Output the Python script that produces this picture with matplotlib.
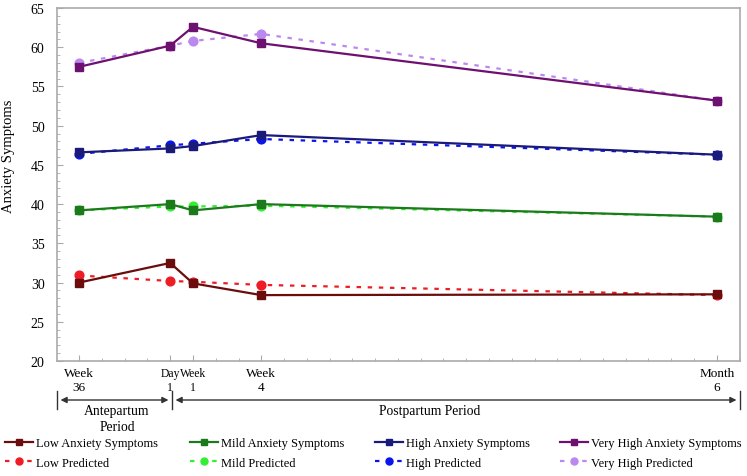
import matplotlib
matplotlib.use("Agg")
import matplotlib.pyplot as plt
from matplotlib.patches import FancyArrowPatch

plt.rcParams['font.family'] = ['Liberation Serif', 'DejaVu Serif']

# time points (weeks relative to delivery)
time_points = [-4, 0, 1, 4, 24]
tick_labels = ["Week\n36", "Day\n1", "Week\n1", "Week\n4", "Month\n6"]

low_obs = [30.0, 32.5, 29.9, 28.4, 28.5]
low_pred = [30.9, 30.2, 30.1, 29.7, 28.4]
mild_obs = [39.2, 40.0, 39.2, 40.0, 38.4]
mild_pred = [39.2, 39.7, 39.7, 39.8, 38.4]
high_obs = [46.6, 47.1, 47.4, 48.8, 46.3]
high_pred = [46.4, 47.5, 47.7, 48.3, 46.3]
vhigh_obs = [57.5, 60.2, 62.6, 60.5, 53.2]
vhigh_pred = [58.0, 60.2, 60.8, 61.7, 53.2]

W, H = 747, 477
fig = plt.figure(figsize=(W/100, H/100), dpi=100)
L, R, T, B = 57, 740, 9, 362
ax = fig.add_axes([L/W, 1-B/H, (R-L)/W, (B-T)/H])

series = [
    ("Low Anxiety Symptoms", low_obs, "#6b0d0d", "-", "s"),
    ("Low Predicted", low_pred, "#ee1c24", (0, (2, 3)), "o"),
    ("Mild Anxiety Symptoms", mild_obs, "#1c7a1c", "-", "s"),
    ("Mild Predicted", mild_pred, "#33ee33", (0, (2, 3)), "o"),
    ("High Anxiety Symptoms", high_obs, "#1a1a7a", "-", "s"),
    ("High Predicted", high_pred, "#0a14ee", (0, (2, 3)), "o"),
    ("Very High Anxiety Symptoms", vhigh_obs, "#6e1070", "-", "s"),
    ("Very High Predicted", vhigh_pred, "#bb88ee", (0, (2, 3)), "o"),
]
handles = []
for name, vals, col, ls, mk in series:
    ms = 5.8 if mk == "s" else 6.3
    ln, = ax.plot(time_points, vals, color=col, linestyle=ls, lw=1.6,
                  marker=mk, markersize=ms, markeredgecolor=col, label=name,
                  zorder=3 if mk == "s" else 2.5)
    handles.append(ln)

ax.set_xlim(-4.97, 25.02)
ax.set_ylim(20, 65)
ax.set_yticks(range(20, 66, 5))
ax.set_yticks(range(20, 66, 1), minor=True)
ax.set_xticks(time_points)
ax.set_xticklabels(tick_labels, fontsize=9.5, linespacing=1.3)
ax.set_xticks(range(-4, 26, 1), minor=True)
ax.tick_params(axis='both', which='both', direction='in', color='#aaaaaa')
ax.tick_params(axis='both', which='major', length=4)
ax.tick_params(axis='both', which='minor', length=2.5)
ax.tick_params(axis='x', which='major', pad=4)
ax.tick_params(axis='y', which='major', labelsize=10, pad=9)
xl = ax.get_xticklabels()
xl[1].set_fontsize(8.4)
xl[2].set_fontsize(8.4)
for s in ax.spines.values():
    s.set_color('#aaaaaa')
    s.set_linewidth(1.2)
ax.set_ylabel("Anxiety Symptoms", fontsize=10.5)
ax.yaxis.set_label_coords(-(L - 15) / (R - L), 1 - (156 - T) / (B - T))

def fx(px):
    return px / W
def fy(py):
    return 1 - py / H

ya = 401
xa0, xa1, xa2 = 57, 172, 740
for x0, x1 in [(xa0, xa1), (xa1, xa2)]:
    fig.patches.append(FancyArrowPatch((fx(x0) + 0.001, fy(ya)), (fx(x1) - 0.001, fy(ya)),
                       arrowstyle='<|-|>', mutation_scale=9, color='#333333', lw=1,
                       transform=fig.transFigure, figure=fig))
for xv in (xa0, xa1, xa2):
    fig.add_artist(plt.Line2D([fx(xv), fx(xv)], [fy(ya - 9), fy(ya + 9)], color='#333333', lw=1))

fig.text(fx(117), fy(420), "Antepartum\nPeriod", ha='center', va='center', fontsize=9.8, linespacing=1.3)
fig.text(fx(430), fy(411), "Postpartum Period", ha='center', va='center', fontsize=9.8)

col_x = [5, 190, 375, 560]
for i, cx in enumerate(col_x):
    fig.legend(handles=handles[2*i:2*i+2], loc='center left', bbox_to_anchor=(fx(cx), fy(454)),
               frameon=False, fontsize=9, handlelength=2.25, handletextpad=0.25,
               labelspacing=0.6, borderpad=0, borderaxespad=0, markerscale=0.8)

fig.savefig("out.png", dpi=100)
